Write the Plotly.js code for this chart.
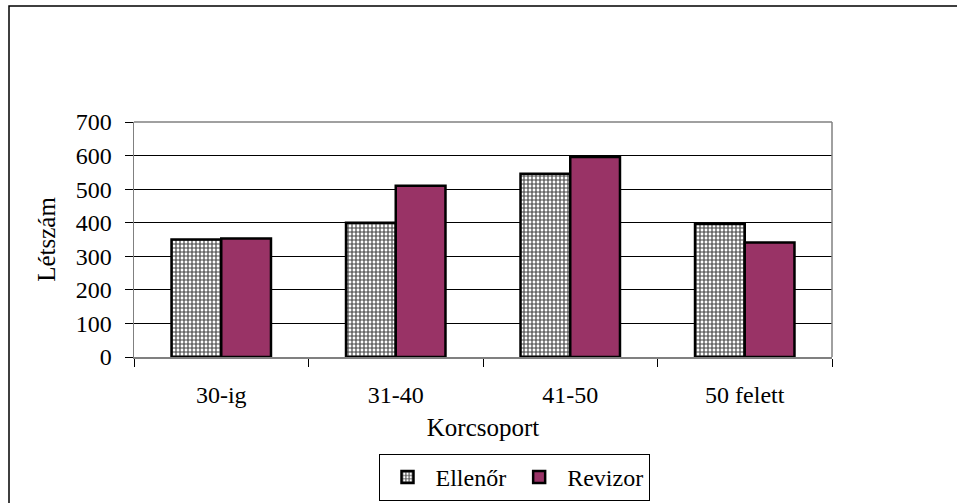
<!DOCTYPE html>
<html>
<head>
<meta charset="utf-8">
<script src="https://cdn.plot.ly/plotly-3.0.1.min.js"></script>
<style>html,body{margin:0;padding:0;background:#fff;}#chart{width:957px;height:503px;}</style>
</head>
<body>
<div id="chart"></div>
<script>
var categories = ["30-ig", "31-40", "41-50", "50 felett"];
var ellenor = [350, 400, 546, 396];
var revizor = [353, 510, 596, 341];
var yTicks = [0, 100, 200, 300, 400, 500, 600, 700];

var W = 957, H = 503;
var L = 134, R = 125, T = 122, B = 146;
var pw = W - L - R, ph = H - T - B;
var FONT = "Liberation Serif";
var FS = 24;

var traces = [
  {
    type: "bar", name: "Ellenőr", x: categories, y: ellenor,
    marker: {
      color: "#ffffff",
      line: {color: "#000000", width: 2.5},
      pattern: {shape: "+", fgcolor: "#444444", bgcolor: "#ffffff", size: 4, solidity: 0.5}
    }
  },
  {
    type: "bar", name: "Revizor", x: categories, y: revizor,
    marker: {color: "#993366", line: {color: "#000000", width: 2.5}}
  }
];

var layout = {
  width: W, height: H,
  margin: {l: L, r: R, t: T, b: B},
  paper_bgcolor: "#ffffff", plot_bgcolor: "#ffffff",
  font: {family: FONT, size: FS, color: "#000000"},
  barmode: "group", bargap: 0.43, bargroupgap: 0,
  showlegend: true,
  legend: {
    orientation: "h", xref: "container", yref: "container",
    x: 514 / W, xanchor: "center", y: 1 - 454 / H, yanchor: "top",
    bordercolor: "#000000", borderwidth: 1, bgcolor: "#ffffff",
    font: {family: FONT, size: FS}, itemwidth: 46, tracegroupgap: 0
  },
  xaxis: {
    type: "category",
    showline: true, linecolor: "#808080", linewidth: 1.5,
    ticks: "outside", tickson: "boundaries", ticklen: 8, tickcolor: "#000000",
    ticklabelstandoff: 16,
    tickfont: {family: FONT, size: FS},
    showgrid: false,
    title: {text: "Korcsoport", font: {family: FONT, size: 25}, standoff: 11}
  },
  yaxis: {
    range: [0, 700], tickvals: yTicks, ticktext: yTicks.map(String),
    showline: true, linecolor: "#808080", linewidth: 1.5,
    ticks: "outside", ticklen: 8, tickcolor: "#000000",
    ticklabelstandoff: 8,
    tickfont: {family: FONT, size: FS},
    showgrid: true, gridcolor: "#000000", gridwidth: 1,
    zeroline: false,
    title: {text: "Létszám", font: {family: FONT, size: 25}, standoff: 13}
  },
  shapes: [
    {type: "line", xref: "paper", yref: "paper", x0: 1, x1: 1, y0: 0, y1: 1, line: {color: "#808080", width: 1.5}},
    {type: "line", xref: "paper", yref: "paper", x0: 0, x1: 1, y0: 1, y1: 1, line: {color: "#808080", width: 1.5}},
    {type: "rect", xref: "paper", yref: "paper",
     x0: -(L - 9) / pw, x1: 1 + (R + 10) / pw, y0: -(B + 10) / ph, y1: 1 + (T - 6) / ph,
     line: {color: "#000000", width: 1.5}}
  ]
};

Plotly.newPlot("chart", traces, layout, {displayModeBar: false, staticPlot: true});
</script>
</body>
</html>
